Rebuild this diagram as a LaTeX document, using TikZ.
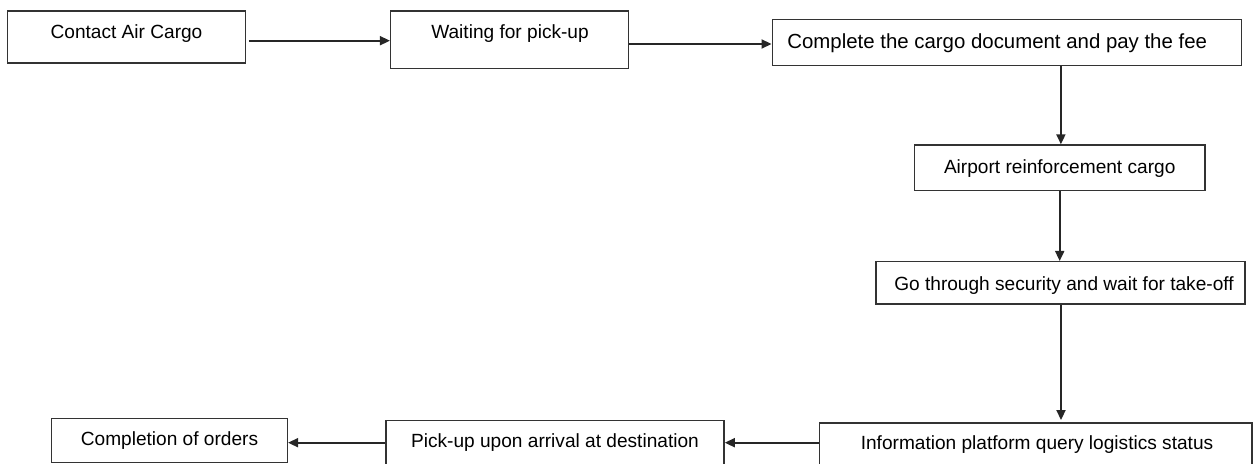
\documentclass[tikz,border=0pt]{standalone}
\usepackage{fontspec}
\setmainfont{Liberation Sans}
\usetikzlibrary{arrows.meta}
\begin{document}
\begin{tikzpicture}[x=0.5pt,y=-0.5pt,
  stepbox/.style={draw=black!80,line width=0.75pt,rectangle,inner sep=0pt},
  steptext/.style={anchor=base,inner sep=0pt,font=\fontsize{9.55}{12}\selectfont},
  flow/.style={-{Triangle[length=5pt,width=4.5pt]},line width=0.9pt,draw=black!85}]
  \useasboundingbox (0,0) rectangle (1253,464);

  % Top row
  \node[stepbox,minimum width=119pt,minimum height=26pt] (contact) at (126.5,37) {};
  \node[steptext] (contacttext) at (126.5,39) {Contact Air Cargo};
  \node[stepbox,minimum width=119pt,minimum height=28.65pt] (waiting) at (509.7,39.7) {};
  \node[steptext] (waitingtext) at (510,39) {Waiting for pick-up};
  \node[stepbox,minimum width=234.7pt,minimum height=23.1pt] (document) at (1007,42.6) {};
  \node[steptext,anchor=base west,font=\fontsize{10.2}{12}\selectfont] (documenttext) at (787,48.3) {Complete the cargo document and pay the fee};

  % Right column
  \node[stepbox,minimum width=145.35pt,minimum height=22.85pt] (reinforce) at (1059.7,167.9) {};
  \node[steptext] (reinforcetext) at (1059.7,173.3) {Airport reinforcement cargo};
  \node[stepbox,minimum width=184.5pt,minimum height=21.15pt] (security) at (1060.5,282.9) {};
  \node[steptext] (securitytext) at (1064,291) {Go through security and wait for take-off};

  % Bottom row
  \node[stepbox,minimum width=216.35pt,minimum height=24.5pt] (platform) at (1035.6,447.3) {};
  \node[steptext] (platformtext) at (1037,450) {Information platform query logistics status};
  \node[stepbox,minimum width=169.15pt,minimum height=25.65pt] (arrival) at (554.9,446.4) {};
  \node[steptext] (arrivaltext) at (555,448) {Pick-up upon arrival at destination};
  \node[stepbox,minimum width=117.8pt,minimum height=22.2pt] (orders) at (169.5,440.5) {};
  \node[steptext] (orderstext) at (169.5,445) {Completion of orders};

  % Connections
  \draw[flow] ([xshift=1.25pt,yshift=-1.85pt]contact.east) -- ([yshift=-1.85pt]waiting.west |- contact.east);
  \draw[flow] ([yshift=-2.15pt]waiting.east) -- ([yshift=-2.15pt]document.west |- waiting.east);
  \draw[flow] ([xshift=0.6pt]reinforce.north |- document.south) -- ([xshift=0.6pt]reinforce.north);
  \draw[flow] (reinforce.south) -- (reinforce.south |- security.north);
  \draw[flow] ([xshift=0.25pt]security.south) -- ([xshift=0.25pt,yshift=1pt]security.south |- platform.north);
  \draw[flow] ([yshift=2.3pt]platform.west) -- ([yshift=2.3pt]arrival.east |- platform.west);
  \draw[flow] ([yshift=1.85pt]arrival.west) -- ([yshift=1.85pt]orders.east |- arrival.west);
\end{tikzpicture}
\end{document}
